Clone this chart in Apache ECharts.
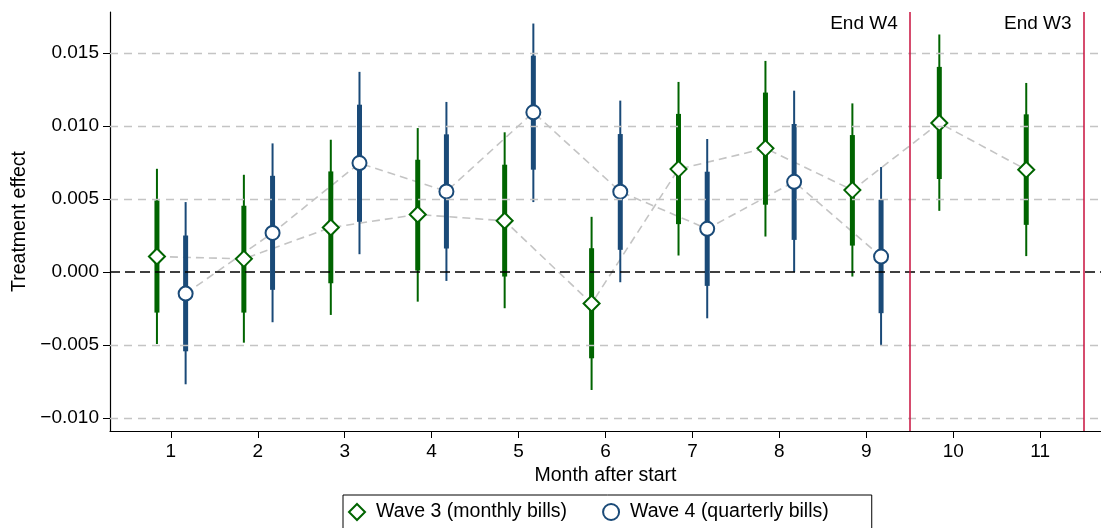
<!DOCTYPE html>
<html lang="en">
<head>
    <meta charset="utf-8">
    <title>Treatment effect by month</title>
    <script src="https://cdn.jsdelivr.net/npm/echarts@6/dist/echarts.min.js"></script>
    <style>
        html, body {
            margin: 0;
            padding: 0;
            background: #fff;
        }
    </style>
</head>
<body>
<div id="chart" style="width: 1101px; height: 528px;"></div>

<script>
    // months on the x axis
    var months = [1, 2, 3, 4, 5, 6, 7, 8, 9, 10, 11];
    var yTicks = [-0.010, -0.005, 0.000, 0.005, 0.010, 0.015];

    // Wave 3 (monthly bills): estimate, outer interval, inner interval
    var w3Est   = [0.00105, 0.00089, 0.00304, 0.00393, 0.00350, -0.00217, 0.00704, 0.00846, 0.00560, 0.01020, 0.00700];
    var w3Lo    = [-0.00494, -0.00485, -0.00295, -0.00204, -0.00249, -0.00809, 0.00112, 0.00242, -0.00032, 0.00418, 0.00108];
    var w3Hi    = [0.00706, 0.00665, 0.00905, 0.00985, 0.00956, 0.00377, 0.01301, 0.01445, 0.01154, 0.01626, 0.01294];
    var w3LoIn  = [-0.00279, -0.00279, -0.00078, 0.00009, -0.00032, -0.00592, 0.00327, 0.00460, 0.00180, 0.00636, 0.00322];
    var w3HiIn  = [0.00489, 0.00453, 0.00688, 0.00768, 0.00734, 0.00162, 0.01082, 0.01228, 0.00937, 0.01404, 0.01079];

    // Wave 4 (quarterly bills): months 1-9 only
    var w4Est   = [-0.00149, 0.00267, 0.00745, 0.00551, 0.01093, 0.00549, 0.00295, 0.00617, 0.00105];
    var w4Lo    = [-0.00770, -0.00345, 0.00121, -0.00062, 0.00478, -0.00071, -0.00318, -0.00002, -0.00505];
    var w4Hi    = [0.00478, 0.00880, 0.01370, 0.01164, 0.01701, 0.01173, 0.00910, 0.01241, 0.00718];
    var w4LoIn  = [-0.00544, -0.00123, 0.00343, 0.00160, 0.00700, 0.00151, -0.00096, 0.00219, -0.00283];
    var w4HiIn  = [0.00249, 0.00658, 0.01145, 0.00942, 0.01481, 0.00944, 0.00686, 0.01013, 0.00494];

    // end-of-wave reference lines
    var endLines  = [9.5, 11.5];
    var endLabels = ['End W4', 'End W3'];

    var w3Offset = -0.16;
    var w4Offset = 0.17;

    var green = '#006400';
    var blue  = '#1a4a78';
    var red   = '#c8103e';
    var grey  = '#c4c4c4';

    function points(est, off) {
        return est.map(function (v, i) { return [months[i] + off, v]; });
    }

    function bars(lo, hi, loIn, hiIn, off) {
        return lo.map(function (v, i) {
            return [months[i] + off, v, hi[i], loIn[i], hiIn[i]];
        });
    }

    function barRenderer(color) {
        return function (params, api) {
            var x = api.value(0);
            var a = api.coord([x, api.value(1)]);
            var b = api.coord([x, api.value(2)]);
            var c = api.coord([x, api.value(3)]);
            var d = api.coord([x, api.value(4)]);
            return {
                type: 'group',
                children: [
                    {type: 'line', shape: {x1: a[0], y1: a[1], x2: b[0], y2: b[1]},
                        style: {stroke: color, lineWidth: 2}},
                    {type: 'line', shape: {x1: c[0], y1: c[1], x2: d[0], y2: d[1]},
                        style: {stroke: color, lineWidth: 5}}
                ]
            };
        };
    }

    function fmtY(v) {
        var s = Math.abs(v).toFixed(3);
        return v < -1e-9 ? '\u2212' + s : s;
    }

    var font = 'Liberation Sans, Arial, Helvetica, sans-serif';
    var myChart = echarts.init(document.getElementById('chart'));

    var refLines = yTicks.filter(function (v) { return v !== 0; }).map(function (v) {
        return {yAxis: v, lineStyle: {color: grey, type: [8, 6], width: 1.3}};
    });
    refLines.push({yAxis: 0, lineStyle: {color: '#000', type: [10, 5], width: 1.5}});
    endLines.forEach(function (x) {
        refLines.push({xAxis: x, lineStyle: {color: red, type: 'solid', width: 1.5}});
    });

    var option = {
        animation: false,
        backgroundColor: '#fff',
        textStyle: {fontFamily: font},
        grid: {left: 110, top: 12, right: 0, bottom: 97},
        legend: {
            left: 343,
            top: 495,
            orient: 'horizontal',
            padding: [7, 43, 10, 5],
            itemGap: 35,
            itemWidth: 16,
            itemHeight: 16,
            borderColor: '#000',
            borderWidth: 1,
            textStyle: {fontSize: 19.5, color: '#000', fontFamily: font, padding: [0, 0, 0, 6]},
            data: ['Wave 3 (monthly bills)', 'Wave 4 (quarterly bills)']
        },
        xAxis: {
            type: 'value',
            min: 0.3,
            max: 11.7,
            name: 'Month after start',
            nameLocation: 'middle',
            nameGap: 32,
            nameTextStyle: {fontSize: 19.5, color: '#000', fontFamily: font},
            axisLine: {onZero: false, lineStyle: {color: '#000', width: 1.2}},
            axisTick: {show: true, length: 7, lineStyle: {color: '#000'}, customValues: months},
            axisLabel: {fontSize: 19, color: '#000', margin: 11, customValues: months},
            splitLine: {show: false}
        },
        yAxis: {
            type: 'value',
            min: -0.0109,
            max: 0.0178,
            name: 'Treatment effect',
            nameLocation: 'middle',
            nameRotate: 90,
            nameGap: 74,
            nameTextStyle: {fontSize: 19.5, color: '#000', fontFamily: font},
            axisLine: {show: true, onZero: false, lineStyle: {color: '#000', width: 1.2}},
            axisTick: {show: true, length: 7, lineStyle: {color: '#000'}, customValues: yTicks},
            axisLabel: {fontSize: 19, color: '#000', margin: 11, customValues: yTicks, formatter: fmtY},
            splitLine: {show: false}
        },
        series: [
            {
                // grid lines, zero line and end-of-wave lines
                type: 'line',
                data: [],
                silent: true,
                z: 1,
                markLine: {
                    silent: true,
                    precision: 4,
                    symbol: ['none', 'none'],
                    label: {show: false},
                    animation: false,
                    data: refLines
                }
            },
            {
                name: 'w3line',
                type: 'line',
                data: points(w3Est, w3Offset),
                symbol: 'none',
                lineStyle: {color: grey, type: [8, 5], width: 1.6},
                silent: true,
                z: 2
            },
            {
                name: 'w4line',
                type: 'line',
                data: points(w4Est, w4Offset),
                symbol: 'none',
                lineStyle: {color: grey, type: [8, 5], width: 1.6},
                silent: true,
                z: 2
            },
            {
                type: 'custom',
                renderItem: barRenderer(green),
                data: bars(w3Lo, w3Hi, w3LoIn, w3HiIn, w3Offset),
                encode: {x: 0, y: [1, 2, 3, 4]},
                z: 3
            },
            {
                type: 'custom',
                renderItem: barRenderer(blue),
                data: bars(w4Lo, w4Hi, w4LoIn, w4HiIn, w4Offset),
                encode: {x: 0, y: [1, 2, 3, 4]},
                z: 3
            },
            {
                name: 'Wave 3 (monthly bills)',
                type: 'scatter',
                symbol: 'diamond',
                symbolSize: 16,
                data: points(w3Est, w3Offset),
                itemStyle: {color: '#fff', borderColor: green, borderWidth: 2, opacity: 1},
                z: 4
            },
            {
                name: 'Wave 4 (quarterly bills)',
                type: 'scatter',
                symbol: 'circle',
                symbolSize: 14,
                data: points(w4Est, w4Offset),
                itemStyle: {color: '#fff', borderColor: blue, borderWidth: 2, opacity: 1},
                z: 4
            },
            {
                // labels for the end-of-wave lines
                type: 'scatter',
                symbolSize: 0,
                silent: true,
                itemStyle: {opacity: 1},
                data: endLines.map(function (x, i) { return [x, 0.0170, endLabels[i]]; }),
                label: {
                    show: true,
                    position: 'left',
                    distance: 12,
                    fontSize: 19,
                    color: '#000',
                    opacity: 1,
                    fontFamily: font,
                    formatter: function (p) { return p.value[2]; }
                },
                z: 5
            }
        ]
    };

    myChart.setOption(option);
</script>
</body>
</html>
